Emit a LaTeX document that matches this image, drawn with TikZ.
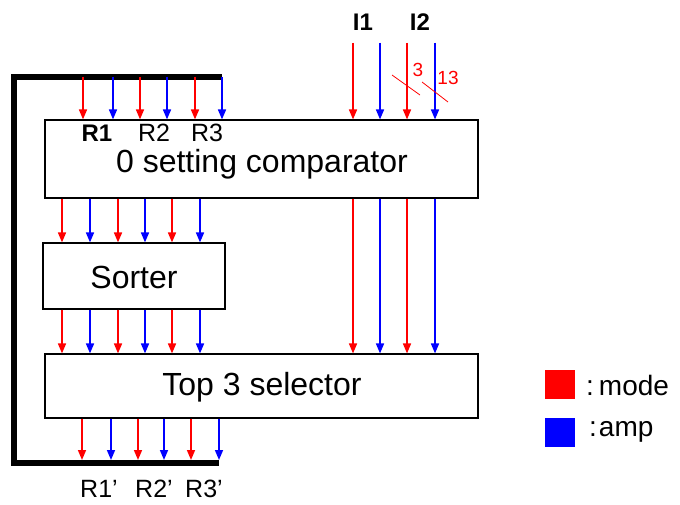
\documentclass[tikz,border=0pt]{standalone}
\usepackage{fontspec}
\setmainfont{Liberation Sans}
\usetikzlibrary{arrows.meta}
\definecolor{mred}{RGB}{255,0,0}
\definecolor{mblue}{RGB}{0,0,255}
\tikzset{
  box/.style={draw=black, line width=1.1pt, fill=white, inner sep=0pt},
  sig/.style={line width=1.6pt, -{Triangle[width=8pt,length=10pt]}},
  rsig/.style={sig, draw=mred, fill=mred},
  bsig/.style={sig, draw=mblue, fill=mblue},
  feedback/.style={line width=6pt, draw=black},
  lbl/.style={inner sep=0pt, font=\fontsize{25}{28}\selectfont},
  blbl/.style={inner sep=0pt, font=\bfseries\fontsize{24}{28}\selectfont},
  big/.style={inner sep=0pt, font=\fontsize{32}{36}\selectfont},
  small/.style={inner sep=0pt, text=mred, font=\fontsize{19}{21}\selectfont},
  legsq/.style={minimum width=30pt, minimum height=29pt, inner sep=0pt},
  legtxt/.style={inner sep=0pt, anchor=west, font=\fontsize{28}{32}\selectfont}
}
\begin{document}
\begin{tikzpicture}[x=1pt,y=-1pt]
\useasboundingbox (0,0) rectangle (680,505);
% boxes
\node[box, minimum width=433pt, minimum height=78pt] (cmp) at (261.5,159) {};
\node[big] (cmptxt) at (262,164) {0 setting comparator};
\node[box, minimum width=182pt, minimum height=66pt] (sort) at (134,276) {};
\node[big] (sorttxt) at (134,277) {Sorter};
\node[box, minimum width=433pt, minimum height=64pt] (sel) at (261.5,386) {};
\node[big] (seltxt) at (262,387) {Top 3 selector};
% feedback loop
\coordinate (ftop) at (222,77);
\coordinate (ftl) at (14,77);
\coordinate (fbl) at (14,463);
\coordinate (fbot) at (219,463);
\draw[feedback, line cap=butt] (ftop) -- (ftl) -- (fbl) -- (fbot);
% inputs R into comparator
\foreach \x/\c in {83/rsig,113/bsig,140/rsig,167/bsig,195/rsig,222/bsig}
  \draw[\c] (\x,77) -- (\x,0 |- cmp.north);
\node[blbl] (r1) at (97,133) {R1};
\node[lbl] (r2) at (154,133) {R2};
\node[lbl] (r3) at (207,133) {R3};
% comparator -> sorter
\foreach \x/\c in {62/rsig,90/bsig,118/rsig,145/bsig,172/rsig,200/bsig}
  \draw[\c] (\x,0 |- cmp.south) -- (\x,0 |- sort.north);
% sorter -> selector
\foreach \x/\c in {62/rsig,90/bsig,118/rsig,145/bsig,172/rsig,200/bsig}
  \draw[\c] (\x,0 |- sort.south) -- (\x,0 |- sel.north);
% I inputs
\node[blbl] (i1) at (363,22) {I1};
\node[blbl] (i2) at (420,22) {I2};
\foreach \x/\c in {353/rsig,380/bsig,407/rsig,435/bsig}
  \draw[\c] (\x,43) -- (\x,0 |- cmp.north);
\draw[mred, line width=0.8pt] (392,75) -- (420,95);
\draw[mred, line width=0.8pt] (422,82) -- (448,102);
\node[small] (n3) at (418,70) {3};
\node[small] (n13) at (448,78) {13};
% comparator -> selector (I)
\foreach \x/\c in {353/rsig,380/bsig,407/rsig,435/bsig}
  \draw[\c] (\x,0 |- cmp.south) -- (\x,0 |- sel.north);
% selector outputs
\foreach \x/\c in {82/rsig,111/bsig,138/rsig,164/bsig,191/rsig,219/bsig}
  \draw[\c] (\x,0 |- sel.south) -- (\x,460);
\node[lbl] (o1) at (99,489) {R1'};
\node[lbl] (o2) at (154,489) {R2'};
\node[lbl] (o3) at (204,489) {R3'};
% legend
\node[legsq, fill=mred] (lr) at (560,384.5) {};
\node[legsq, fill=mblue] (lb) at (560,432) {};
\node[legtxt] (lrt) at (586,385) {:\hspace{5pt}mode};
\node[legtxt] (lbt) at (589,432) {:\hspace{2pt}amp};
\end{tikzpicture}
\end{document}
